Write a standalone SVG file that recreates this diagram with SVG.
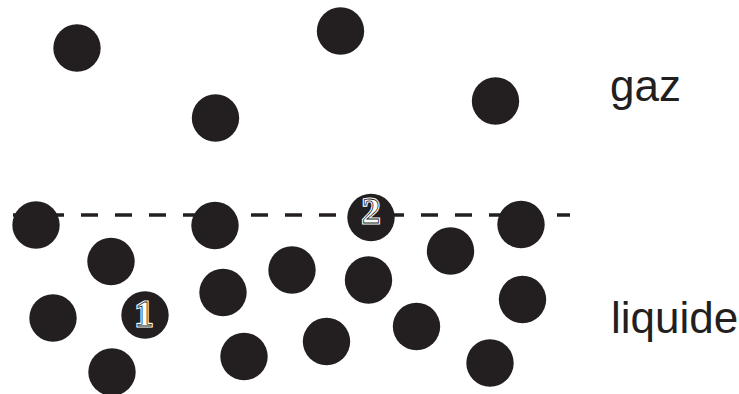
<svg xmlns="http://www.w3.org/2000/svg" width="739" height="394" viewBox="0 0 739 394">
<style>
.p{fill:#231f20}
.lbl{font-family:"Liberation Sans",Arial,sans-serif;font-size:44px;fill:#231f20}
.numh{font-family:"Liberation Serif","Times New Roman",serif;font-weight:bold;font-size:36px;fill:#fff;stroke:#fff;stroke-width:3;text-anchor:middle}
.numo{font-family:"Liberation Serif","Times New Roman",serif;font-weight:bold;font-size:36px;fill:none;stroke:#231f20;stroke-width:0.8;text-anchor:middle}
</style>
<rect width="739" height="394" fill="#fff"/>
<g id="interface">
<line x1="13" y1="215" x2="570" y2="215" stroke="#231f20" stroke-width="3.5" stroke-dasharray="17 17"/>
</g>
<g id="gas">
<circle class="p" cx="77" cy="48" r="23.7"/>
<circle class="p" cx="215.5" cy="118" r="23.7"/>
<circle class="p" cx="340.5" cy="31" r="23.7"/>
<circle class="p" cx="495.5" cy="101" r="23.7"/>
</g>
<g id="liquid">
<circle class="p" cx="36" cy="225" r="23.7"/>
<circle class="p" cx="215" cy="225.5" r="23.7"/>
<circle class="p" cx="521" cy="224.5" r="23.7"/>
<circle class="p" cx="111" cy="261.5" r="23.7"/>
<circle class="p" cx="53" cy="318" r="23.7"/>
<circle class="p" cx="112" cy="372" r="23.7"/>
<circle class="p" cx="223" cy="292.5" r="23.7"/>
<circle class="p" cx="244" cy="356.5" r="23.7"/>
<circle class="p" cx="292" cy="270" r="23.7"/>
<circle class="p" cx="450.5" cy="251" r="23.7"/>
<circle class="p" cx="368.5" cy="280" r="23.7"/>
<circle class="p" cx="522.5" cy="299.5" r="23.7"/>
<circle class="p" cx="326.5" cy="341.5" r="23.7"/>
<circle class="p" cx="416.5" cy="326.5" r="23.7"/>
<circle class="p" cx="490" cy="363" r="23.7"/>
</g>
<g id="molecule1">
<circle class="p" cx="145" cy="315" r="23.7"/>
<text class="numh" x="144" y="326">1</text>
<text class="numo" x="144" y="326">1</text>
</g>
<g id="molecule2">
<circle class="p" cx="371" cy="217.5" r="23.7"/>
<text class="numh" x="371" y="223">2</text>
<text class="numo" x="371" y="223">2</text>
</g>
<g id="labels">
<text class="lbl" x="610" y="101">gaz</text>
<text class="lbl" x="611" y="333">liquide</text>
</g>
</svg>
